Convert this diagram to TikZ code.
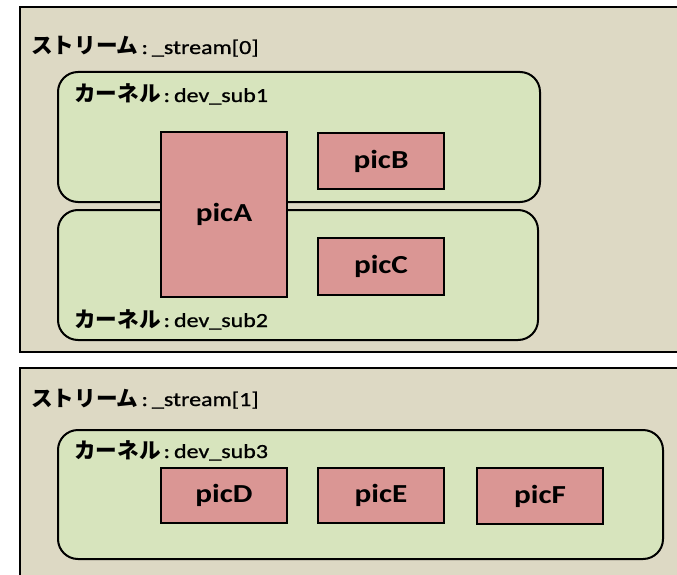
\documentclass[tikz,border=0pt]{standalone}
\usepackage{fontspec}
\setmainfont{Carlito}[FakeStretch=1.2,UprightFeatures={FakeBold=0.9}]
\newfontfamily\jpfont{Noto Sans CJK JP}[Scale=1.08]
\definecolor{streambg}{HTML}{DDD9C4}
\definecolor{kernelbg}{HTML}{D7E4BD}
\definecolor{picbg}{HTML}{DA9694}
\newcommand{\jp}[1]{{\jpfont\bfseries #1}\hspace{3pt}:\hspace{4pt}}
\tikzset{
  streambox/.style = {draw=black, fill=streambg, line width=2.4pt, anchor=north west, inner sep=0pt},
  kernelbox/.style = {draw=black, fill=kernelbg, line width=2pt, rounded corners=20pt, inner sep=0pt},
  picbox/.style    = {draw=black, fill=picbg, line width=2pt, inner sep=0pt,
                      font=\fontsize{26}{30}\selectfont\bfseries},
  titletxt/.style  = {anchor=base west, inner sep=0pt, font=\fontsize{20}{24}\selectfont},
  labeltxt/.style  = {anchor=base west, inner sep=0pt, font=\fontsize{20}{24}\selectfont}
}

\begin{document}
\begin{tikzpicture}[x=1pt,y=-1pt]
  \useasboundingbox (0,0) rectangle (677,575);
  \clip (0,0) rectangle (677,575);
  % stream 0
  \node[streambox, minimum width=700pt, minimum height=345pt] (strm0) at (19,6) {};
  \node[titletxt] (strm0lbl) at (31,54) {\jp{ストリーム}\_stream[0]};
  \node[kernelbox, minimum width=482pt, minimum height=130pt] (kern1) at (299,137) {};
  \node[kernelbox, minimum width=480pt, minimum height=130pt] (kern2) at (298,275) {};
  \node[labeltxt] (kern1lbl) at (74,102) {\jp{カーネル}dev\_sub1};
  \node[labeltxt] (kern2lbl) at (74,327) {\jp{カーネル}dev\_sub2};
  \node[picbox, minimum width=126pt, minimum height=165pt] (picA) at (224,214.5) {picA};
  \node[picbox, minimum width=126pt, minimum height=56pt]  (picB) at (381,161) {picB};
  \node[picbox, minimum width=126pt, minimum height=57pt]  (picC) at (381,266.5) {picC};
  % stream 1
  \node[streambox, minimum width=700pt, minimum height=250pt] (strm1) at (19,367) {};
  \node[titletxt] (strm1lbl) at (31,406) {\jp{ストリーム}\_stream[1]};
  \node[kernelbox, minimum width=605pt, minimum height=129pt] (kern3) at (360.5,494.5) {};
  \node[labeltxt] (kern3lbl) at (74,458) {\jp{カーネル}dev\_sub3};
  \node[picbox, minimum width=126pt, minimum height=55pt] (picD) at (224,495.5) {picD};
  \node[picbox, minimum width=126pt, minimum height=55pt] (picE) at (381,495.5) {picE};
  \node[picbox, minimum width=126pt, minimum height=56pt] (picF) at (540,496) {picF};
\end{tikzpicture}
\end{document}
